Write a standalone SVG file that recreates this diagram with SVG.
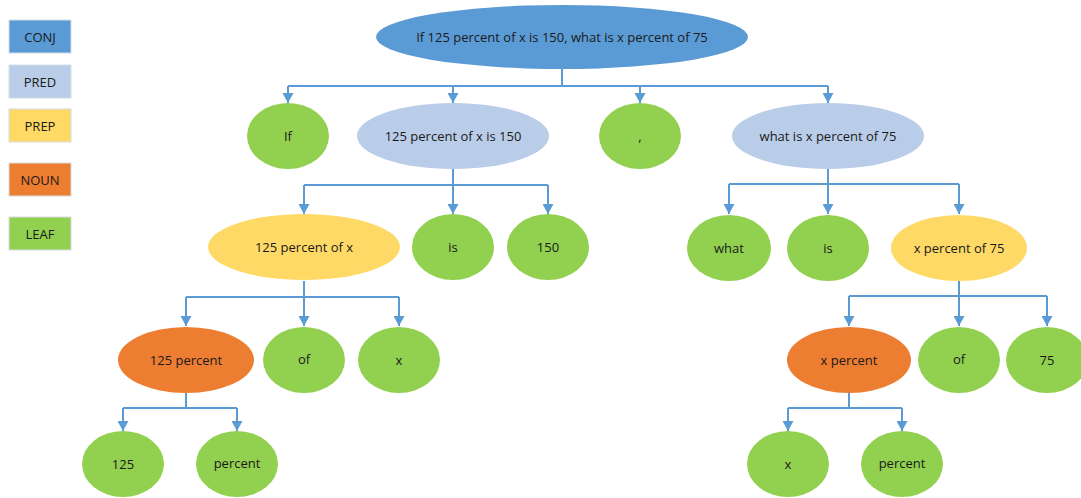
<svg xmlns="http://www.w3.org/2000/svg" width="1081" height="498" viewBox="0 0 1081 498">
<style>
.t{font-family:"Open Sans","Liberation Sans",sans-serif;font-size:13px;fill:#1a1a1a;text-anchor:middle;dominant-baseline:central}
.conj{fill:#5B9BD5}
.pred{fill:#B9CDE8}
.prep{fill:#FFD966}
.noun{fill:#ED7D31}
.leaf{fill:#92D050}
.lg{stroke:#d6dde6;stroke-width:1}
.c{fill:none;stroke:#5B9BD5;stroke-width:2}
</style>
<defs>
<marker id="ah" viewBox="0 0 10 10" refX="5" refY="10" markerWidth="10" markerHeight="9" markerUnits="userSpaceOnUse" orient="auto-start-reverse">
<path d="M0,0 L10,0 L5,10 Z" fill="#5B9BD5" transform="rotate(-90 5 5)"/>
</marker>
<marker id="ad" viewBox="0 0 10 9" refX="5" refY="9" markerWidth="11" markerHeight="10" markerUnits="userSpaceOnUse" orient="0">
<path d="M0,0 L10,0 L5,9 Z" fill="#5B9BD5"/>
</marker>
</defs>
<g id="legend">
<g id="legend-conj"><rect class="conj lg" x="9" y="20" width="62" height="33"/><text class="t" x="40" y="36.5">CONJ</text></g>
<g id="legend-pred"><rect class="pred lg" x="9" y="65" width="62" height="33"/><text class="t" x="40" y="81.5">PRED</text></g>
<g id="legend-prep"><rect class="prep lg" x="9" y="109" width="62" height="33"/><text class="t" x="40" y="125.5">PREP</text></g>
<g id="legend-noun"><rect class="noun lg" x="9" y="163" width="62" height="33"/><text class="t" x="40" y="179.5">NOUN</text></g>
<g id="legend-leaf"><rect class="leaf lg" x="9" y="217" width="62" height="33"/><text class="t" x="40" y="233.5">LEAF</text></g>
</g>
<g id="connectors">
<path class="c" d="M562,69 V86 M288,86 H828"/>
<path class="c" d="M288,86 V103" marker-end="url(#ad)"/>
<path class="c" d="M453,86 V103" marker-end="url(#ad)"/>
<path class="c" d="M640,86 V103" marker-end="url(#ad)"/>
<path class="c" d="M828,86 V103" marker-end="url(#ad)"/>
<path class="c" d="M453,169 V185 M304,185 H548"/>
<path class="c" d="M304,185 V214" marker-end="url(#ad)"/>
<path class="c" d="M453,185 V214" marker-end="url(#ad)"/>
<path class="c" d="M548,185 V214" marker-end="url(#ad)"/>
<path class="c" d="M828,169 V184 M729,184 H959"/>
<path class="c" d="M729,184 V214" marker-end="url(#ad)"/>
<path class="c" d="M828,184 V214" marker-end="url(#ad)"/>
<path class="c" d="M959,184 V214" marker-end="url(#ad)"/>
<path class="c" d="M304,281 V297 M186,297 H399"/>
<path class="c" d="M186,297 V326" marker-end="url(#ad)"/>
<path class="c" d="M304,297 V326" marker-end="url(#ad)"/>
<path class="c" d="M399,297 V326" marker-end="url(#ad)"/>
<path class="c" d="M959,281 V296 M849,296 H1047"/>
<path class="c" d="M849,296 V326" marker-end="url(#ad)"/>
<path class="c" d="M959,296 V326" marker-end="url(#ad)"/>
<path class="c" d="M1047,296 V326" marker-end="url(#ad)"/>
<path class="c" d="M186,393 V408 M123,408 H237"/>
<path class="c" d="M123,408 V431" marker-end="url(#ad)"/>
<path class="c" d="M237,408 V431" marker-end="url(#ad)"/>
<path class="c" d="M849,393 V408 M788,408 H902"/>
<path class="c" d="M788,408 V431" marker-end="url(#ad)"/>
<path class="c" d="M902,408 V431" marker-end="url(#ad)"/>
</g>
<g id="n-root"><ellipse class="conj" cx="562" cy="37" rx="186" ry="32"/><text class="t" x="562" y="37">If 125 percent of x is 150, what is x percent of 75</text></g>
<g id="n-if"><ellipse class="leaf" cx="288" cy="136" rx="41" ry="33"/><text class="t" x="288" y="136">If</text></g>
<g id="n-pred1"><ellipse class="pred" cx="453" cy="136" rx="96" ry="33"/><text class="t" x="453" y="136">125 percent of x is 150</text></g>
<g id="n-comma"><ellipse class="leaf" cx="640" cy="136" rx="41" ry="33"/><text class="t" x="640" y="136">,</text></g>
<g id="n-pred2"><ellipse class="pred" cx="828" cy="136" rx="96" ry="33"/><text class="t" x="828" y="136">what is x percent of 75</text></g>
<g id="n-prep1"><ellipse class="prep" cx="304" cy="247" rx="96" ry="33"/><text class="t" x="304" y="247">125 percent of x</text></g>
<g id="n-is1"><ellipse class="leaf" cx="453" cy="247" rx="41" ry="33"/><text class="t" x="453" y="247">is</text></g>
<g id="n-150"><ellipse class="leaf" cx="548" cy="247" rx="41" ry="33"/><text class="t" x="548" y="247">150</text></g>
<g id="n-what"><ellipse class="leaf" cx="729" cy="248" rx="42" ry="33"/><text class="t" x="729" y="248">what</text></g>
<g id="n-is2"><ellipse class="leaf" cx="828" cy="248" rx="41" ry="33"/><text class="t" x="828" y="248">is</text></g>
<g id="n-prep2"><ellipse class="prep" cx="959" cy="248" rx="68" ry="33"/><text class="t" x="959" y="248">x percent of 75</text></g>
<g id="n-noun1"><ellipse class="noun" cx="186" cy="360" rx="68" ry="33"/><text class="t" x="186" y="360">125 percent</text></g>
<g id="n-of1"><ellipse class="leaf" cx="304" cy="360" rx="41" ry="33"/><text class="t" x="304" y="359">of</text></g>
<g id="n-x1"><ellipse class="leaf" cx="399" cy="360" rx="41" ry="33"/><text class="t" x="399" y="360">x</text></g>
<g id="n-noun2"><ellipse class="noun" cx="849" cy="360" rx="62" ry="33"/><text class="t" x="849" y="360">x percent</text></g>
<g id="n-of2"><ellipse class="leaf" cx="959" cy="360" rx="41" ry="33"/><text class="t" x="959" y="359">of</text></g>
<g id="n-75"><ellipse class="leaf" cx="1047" cy="360" rx="41" ry="33"/><text class="t" x="1047" y="360">75</text></g>
<g id="n-125"><ellipse class="leaf" cx="123" cy="464" rx="41" ry="33"/><text class="t" x="123" y="464">125</text></g>
<g id="n-percent1"><ellipse class="leaf" cx="237" cy="464" rx="41" ry="33"/><text class="t" x="237" y="463">percent</text></g>
<g id="n-x2"><ellipse class="leaf" cx="788" cy="464" rx="41" ry="33"/><text class="t" x="788" y="464">x</text></g>
<g id="n-percent2"><ellipse class="leaf" cx="902" cy="464" rx="41" ry="33"/><text class="t" x="902" y="463">percent</text></g>
</svg>
